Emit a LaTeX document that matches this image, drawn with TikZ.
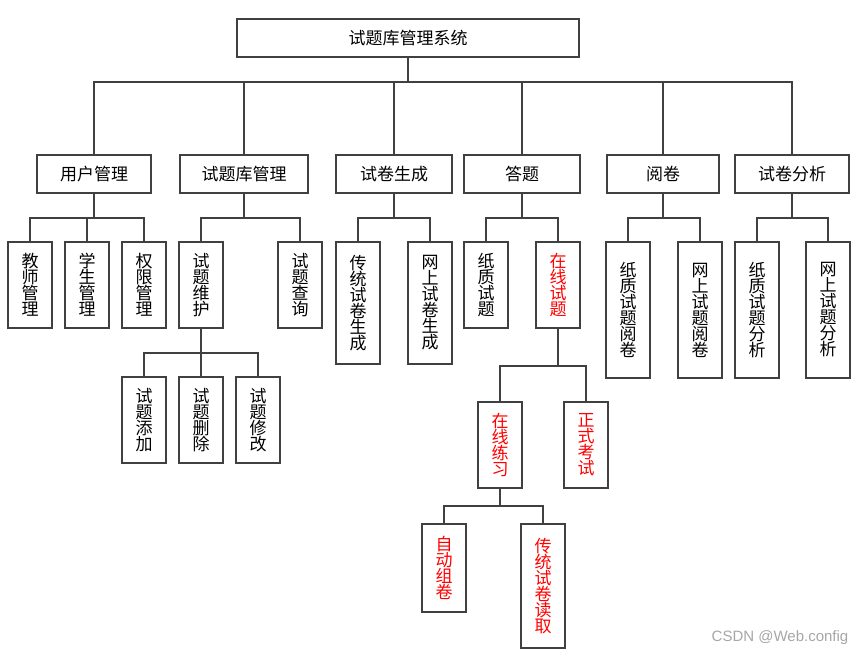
\documentclass[tikz,border=0pt]{standalone}
\usepackage{fontspec}
\setmainfont{Noto Sans CJK SC}
\newfontfamily\wmfont{Liberation Sans}
\tikzset{
  box/.style={draw=black!75, line width=2pt, minimum height=38pt, inner sep=0pt,
    font=\fontsize{17}{17}\selectfont},
  vbox/.style={draw=black!75, line width=2pt, minimum width=44pt, minimum height=#1,
    inner sep=0pt, align=center, font=\fontsize{17}{16}\selectfont},
  vbox/.default=86pt,
  conn/.style={draw=black!75, line width=2pt},
}
\begin{document}
\begin{tikzpicture}[x=1pt,y=-1pt]
    \useasboundingbox (0,0) rectangle (855,653);
    \node[box, minimum width=342pt] (S) at (408,38) {试题库管理系统};

    \node[box, minimum width=114pt] (U) at (94,174) {用户管理};
    \node[box, minimum width=128pt] (Q) at (244,174) {试题库管理};
    \node[box, minimum width=116pt] (G) at (394,174) {试卷生成};
    \node[box, minimum width=116pt] (A) at (522,174) {答题};
    \node[box, minimum width=112pt] (R) at (663,174) {阅卷};
    \node[box, minimum width=114pt] (F) at (792,174) {试卷分析};

    \node[vbox] (U1) at (30,285) {教\\师\\管\\理};
    \node[vbox] (U2) at (87,285) {学\\生\\管\\理};
    \node[vbox] (U3) at (144,285) {权\\限\\管\\理};
    \node[vbox] (Q1) at (201,285) {试\\题\\维\\护};
    \node[vbox] (Q2) at (300,285) {试\\题\\查\\询};
    \node[vbox] (Q11) at (144,420) {试\\题\\添\\加};
    \node[vbox] (Q12) at (201,420) {试\\题\\删\\除};
    \node[vbox] (Q13) at (258,420) {试\\题\\修\\改};
    \node[vbox=122pt] (G1) at (358,303) {传\\统\\试\\卷\\生\\成};
    \node[vbox=122pt] (G2) at (430,303) {网\\上\\试\\卷\\生\\成};
    \node[vbox] (A1) at (486,285) {纸\\质\\试\\题};
    \node[vbox, text=red] (A2) at (558,285) {在\\线\\试\\题};
    \node[vbox, text=red] (A21) at (500,445) {在\\线\\练\\习};
    \node[vbox, text=red] (A22) at (586,445) {正\\式\\考\\试};
    \node[vbox=88pt, text=red] (A211) at (444,568) {自\\动\\组\\卷};
    \node[vbox=124pt, text=red] (A212) at (543,586) {传\\统\\试\\卷\\读\\取};
    \node[vbox=136pt] (R1) at (628,310) {纸\\质\\试\\题\\阅\\卷};
    \node[vbox=136pt] (R2) at (700,310) {网\\上\\试\\题\\阅\\卷};
    \node[vbox=136pt] (F1) at (757,310) {纸\\质\\试\\题\\分\\析};
    \node[vbox=136pt] (F2) at (828,310) {网\\上\\试\\题\\分\\析};

    % parent / child / drop to the bus
    \foreach \pa/\ch/\dr in {S/U/24, S/Q/24, S/G/24, S/A/24, S/R/24, S/F/24,
        U/U1/24, U/U2/24, U/U3/24, Q/Q1/24, Q/Q2/24, G/G1/24, G/G2/24,
        A/A1/24, A/A2/24, R/R1/24, R/R2/24, F/F1/24, F/F2/24,
        Q1/Q11/24, Q1/Q12/24, Q1/Q13/24, A2/A21/37, A2/A22/37,
        A21/A211/17, A21/A212/17}
      \draw[conn] (\pa.south) -- ++(0,\dr) -| (\ch.north);

    \node[text=black!35, font=\wmfont\fontsize{15}{15}\selectfont] (wm) at (780,638) {CSDN @Web.config};
  \end{tikzpicture}
\end{document}
